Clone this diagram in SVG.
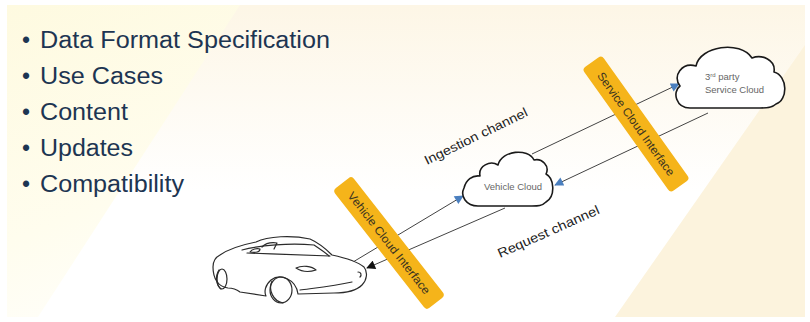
<svg xmlns="http://www.w3.org/2000/svg" width="810" height="322" viewBox="0 0 810 322">
  <style>
    .bullet { font-family: "Liberation Sans", Arial, sans-serif; font-size: 23px; fill: #1d3552; }
    .label { font-family: "Liberation Sans", Arial, sans-serif; font-size: 13px; fill: #222; }
    .band { fill: #f5b41a; }
    .bandtext { font-family: "Liberation Sans", Arial, sans-serif; font-size: 11.5px; fill: #3a3320; }
    .cloud { fill: #ffffff; stroke: #1a1a1a; stroke-width: 1.6; stroke-linejoin: round; }
    .cloudtext { font-family: "Liberation Sans", Arial, sans-serif; font-size: 9.5px; fill: #666; }
    .conn { stroke: #444; stroke-width: 1; fill: none; }
    .car { fill: none; stroke: #2b2b2b; stroke-width: 1.2; stroke-linecap: round; stroke-linejoin: round; }
  </style>
  <defs>
    <marker id="blueHead" viewBox="0 0 10 10" refX="9" refY="5" markerWidth="10" markerHeight="9" markerUnits="userSpaceOnUse" orient="auto">
      <path d="M0,0 L10,5 L0,10 Z" fill="#4a7fbf"/>
    </marker>
    <marker id="blackHead" viewBox="0 0 10 10" refX="9" refY="5" markerWidth="10" markerHeight="9" markerUnits="userSpaceOnUse" orient="auto">
      <path d="M0,0 L10,5 L0,10 Z" fill="#111"/>
    </marker>
    <linearGradient id="midFade" x1="0" y1="0" x2="0" y2="1">
      <stop offset="0" stop-color="#fdf6e6"/>
      <stop offset="0.6" stop-color="#ffffff"/>
    </linearGradient>
    <linearGradient id="leftFade" x1="0" y1="0" x2="0.3" y2="1">
      <stop offset="0" stop-color="#fefae0"/>
      <stop offset="0.7" stop-color="#fffdee"/>
      <stop offset="1" stop-color="#fffef8"/>
    </linearGradient>
  </defs>

  <!-- slide background -->
  <rect x="0" y="0" width="810" height="322" fill="#ffffff"/>
  <rect x="7" y="5" width="798" height="312" fill="url(#midFade)"/>
  <polygon points="7,5 240,5 38,317 7,317" fill="url(#leftFade)"/>
  <polygon points="805,45 805,317 615,317" fill="#fcf3dd"/>

  <!-- bullet list -->
  <g id="bullets">
    <text class="bullet" x="22" y="48">•</text>
    <text class="bullet" x="40" y="48" textLength="290" lengthAdjust="spacingAndGlyphs">Data Format Specification</text>
    <text class="bullet" x="22" y="84">•</text>
    <text class="bullet" x="40" y="84" textLength="123" lengthAdjust="spacingAndGlyphs">Use Cases</text>
    <text class="bullet" x="22" y="120">•</text>
    <text class="bullet" x="40" y="120" textLength="88" lengthAdjust="spacingAndGlyphs">Content</text>
    <text class="bullet" x="22" y="156">•</text>
    <text class="bullet" x="40" y="156" textLength="93" lengthAdjust="spacingAndGlyphs">Updates</text>
    <text class="bullet" x="22" y="192">•</text>
    <text class="bullet" x="40" y="192" textLength="144" lengthAdjust="spacingAndGlyphs">Compatibility</text>
  </g>

  <!-- connectors -->
  <g id="connectors">
    <line class="conn" x1="353" y1="262" x2="463" y2="196" marker-end="url(#blueHead)"/>
    <line class="conn" x1="532" y1="154" x2="679" y2="84" marker-end="url(#blueHead)"/>
    <line class="conn" x1="708" y1="113" x2="555" y2="185" marker-end="url(#blueHead)"/>
    <line class="conn" x1="505" y1="208" x2="367" y2="268" marker-end="url(#blackHead)"/>
  </g>

  <!-- channel labels -->
  <text class="label" transform="translate(427,165) rotate(-26)" textLength="113" lengthAdjust="spacingAndGlyphs">Ingestion channel</text>
  <text class="label" transform="translate(500,258) rotate(-24)" textLength="110" lengthAdjust="spacingAndGlyphs">Request channel</text>

  <!-- interface bands -->
  <g id="vehicle-cloud-interface" transform="translate(389,243) rotate(52)">
    <rect class="band" x="-76" y="-12" width="152" height="24" rx="4"/>
    <text class="bandtext" x="0" y="4" text-anchor="middle" textLength="126" lengthAdjust="spacingAndGlyphs">Vehicle Cloud Interface</text>
  </g>
  <g id="service-cloud-interface" transform="translate(636,124) rotate(54.5)">
    <rect class="band" x="-76" y="-12" width="152" height="24" rx="4"/>
    <text class="bandtext" x="0" y="4" text-anchor="middle" textLength="124" lengthAdjust="spacingAndGlyphs">Service Cloud Interface</text>
  </g>

  <!-- vehicle cloud -->
  <g id="vehicle-cloud">
    <path class="cloud" d="M478,206 C466,206 460,196 464,188 C466,180 472,175 480,176 C478,166 490,160 498,165 C502,150 528,148 534,160 C542,158 550,166 546,174 C554,178 556,196 546,202 C542,206 538,206 532,206 Z"/>
    <text class="cloudtext" x="513" y="190" text-anchor="middle">Vehicle Cloud</text>
  </g>

  <!-- third party service cloud -->
  <g id="service-cloud">
    <path class="cloud" d="M690,108 C676,108 672,92 680,86 C672,76 682,62 696,66 C700,46 740,40 752,58 C762,54 776,60 774,72 C788,76 788,100 776,104 C772,108 766,108 760,108 Z"/>
    <text class="cloudtext" x="705" y="80">3<tspan font-size="6" dy="-3">rd</tspan><tspan dy="3"> party</tspan></text>
    <text class="cloudtext" x="705" y="93">Service Cloud</text>
  </g>

  <!-- car sketch -->
  <g id="car">
    <path d="M220,255 C230,248 246,244 256,242 C268,236 292,235 310,239 C319,243 327,250 332,255 C346,258 358,262 364,267 C368,272 367,280 362,285 C356,291 347,293 334,293 L298,294 C296,279 280,273 271,280 C265,285 264,292 266,296 L240,292 C236,289 232,288 228,288 C218,287 213,278 213,267 C213,261 216,257 220,255 Z" fill="#fff" stroke="#2b2b2b" stroke-width="1.2" stroke-linejoin="round"/>
    <path class="car" d="M242,250 C260,245 290,243 314,245 C320,249 326,253 329,256"/>
    <path class="car" d="M247,253 C275,254 305,255 330,256"/>
    <path class="car" d="M262,247 C266,243 270,242 277,243 L274,249"/>
    <path class="car" d="M250,252 C252,249 257,248 260,249 C260,252 256,253 250,252 Z"/>
    <path class="car" d="M296,268 C302,265 312,266 316,270 C310,272 302,272 296,268 Z"/>
    <path class="car" d="M358,272 C361,272 362,275 360,277"/>
    <ellipse class="car" cx="281" cy="290" rx="11" ry="13"/>
    <path class="car" d="M272,281 C268,290 273,301 283,303"/>
    <ellipse class="car" cx="222" cy="279" rx="5" ry="10"/>
    <path class="car" d="M219,270 C215,276 216,285 221,289"/>
    <path class="car" d="M300,290 C315,288 335,286 352,282"/>
  </g>
</svg>
